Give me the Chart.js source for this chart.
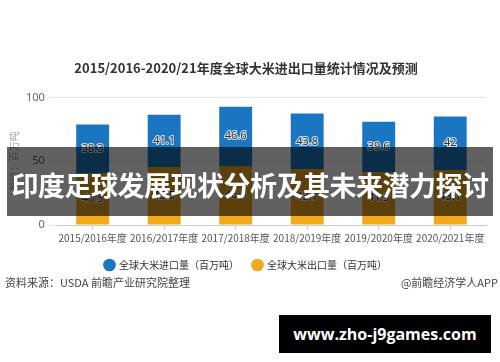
<!DOCTYPE html>
<html>
<head>
    <title>全球大米进出口量</title>
    <script src="https://cdn.jsdelivr.net/npm/chart.js"></script>
    <style>
        body { margin: 0; background: #fff; }
        #wrap { position: relative; width: 500px; height: 362px; overflow: hidden; }
        #myChart { position: absolute; left: 0; top: 0; }
        .src { position: absolute; top: 274px; font: 11px "Noto Sans CJK SC", sans-serif; color: #444; }
        #banner {
            position: absolute; left: 7px; top: 147px; width: 486px; height: 69px;
            background: rgba(0, 0, 0, 0.62); color: #fff;
            font: bold 27px "Noto Sans CJK SC", sans-serif; letter-spacing: -0.5px;
            text-align: center; line-height: 76px; white-space: nowrap;
        }
        #site {
            position: absolute; left: 279px; top: 315px; width: 212px; height: 38px;
            background: #000; color: #fff;
            font: bold 16px "Open Sans", sans-serif;
            text-align: center; line-height: 38px;
        }
    </style>
</head>
<body>
<div id="wrap">
    <canvas id="myChart" width="500" height="362"></canvas>
    <div class="src" style="left:5px">资料来源：USDA 前瞻产业研究院整理</div>
    <div class="src" style="right:2px">@前瞻经济学人APP</div>
    <div id="banner">印度足球发展现状分析及其未来潜力探讨</div>
    <div id="site">www.zho-j9games.com</div>
</div>
<script>
    // data (million tonnes)
    const years = ['2015/2016年度', '2016/2017年度', '2017/2018年度', '2018/2019年度', '2019/2020年度', '2020/2021年度'];
    const exportVals = [40.5, 45.5, 46.3, 43.7, 41.5, 43.1];
    const importVals = [38.3, 41.1, 46.6, 43.8, 39.6, 42];
    const yTicks = [0, 50, 100];

    // draw each value in the middle of its segment
    const segLabels = {
        id: 'segLabels',
        afterDatasetsDraw(chart) {
            const ctx = chart.ctx;
            ctx.save();
            ctx.font = '11px "Noto Sans", sans-serif';
            ctx.textAlign = 'center';
            ctx.textBaseline = 'middle';
            chart.data.datasets.forEach((ds, i) => {
                chart.getDatasetMeta(i).data.forEach((bar, j) => {
                    const y = (bar.y + bar.base) / 2;
                    ctx.lineWidth = 2;
                    ctx.strokeStyle = 'rgba(255,255,255,0.8)';
                    ctx.strokeText(ds.data[j], bar.x, y);
                    ctx.fillStyle = '#333';
                    ctx.fillText(ds.data[j], bar.x, y);
                });
            });
            ctx.restore();
        }
    };

    const ctx = document.getElementById('myChart').getContext('2d');
    const myChart = new Chart(ctx, {
        type: 'bar',
        data: {
            labels: years,
            datasets: [
                { label: '全球大米出口量（百万吨）', data: exportVals, backgroundColor: '#f2a91e' },
                { label: '全球大米进口量（百万吨）', data: importVals, backgroundColor: '#1b76c2' }
            ]
        },
        options: {
            responsive: false,
            animation: false,
            devicePixelRatio: 1,
            layout: { padding: { top: 60, left: 6, right: 14, bottom: 82 } },
            datasets: { bar: { categoryPercentage: 1, barPercentage: 0.46 } },
            scales: {
                x: {
                    stacked: true,
                    grid: { offset: false, drawOnChartArea: false, tickLength: 5, color: '#ccc' },
                    border: { color: '#ccc' },
                    ticks: {
                        color: '#555', maxRotation: 0, minRotation: 0, autoSkip: false,
                        font: { size: 10, family: '"Noto Sans CJK SC", sans-serif' }, padding: 2
                    }
                },
                y: {
                    stacked: true,
                    min: 0,
                    max: 100,
                    afterBuildTicks: axis => { axis.ticks = yTicks.map(v => ({ value: v })); },
                    grid: { color: '#e3e3e3', tickLength: 8 },
                    border: { display: false },
                    ticks: { color: '#666', font: { size: 11, family: '"Noto Sans", sans-serif' }, padding: 4 },
                    title: { display: true, text: '单位：百万吨', color: '#aaa', font: { size: 10, family: '"Noto Sans CJK SC", sans-serif' }, padding: 2 }
                }
            },
            plugins: {
                title: {
                    display: true,
                    text: '2015/2016-2020/21年度全球大米进出口量统计情况及预测',
                    color: '#333',
                    font: { size: 13, weight: 'bold', family: '"Noto Sans CJK SC", sans-serif' },
                    padding: { top: 0, bottom: 22 }
                },
                legend: {
                    position: 'bottom',
                    reverse: true,
                    labels: {
                        usePointStyle: true,
                        pointStyle: 'circle',
                        boxWidth: 9,
                        boxHeight: 9,
                        padding: 14,
                        color: '#333',
                        font: { size: 10, family: '"Noto Sans CJK SC", sans-serif' }
                    }
                },
                tooltip: { enabled: false }
            }
        },
        plugins: [segLabels]
    });
</script>
</body>
</html>
